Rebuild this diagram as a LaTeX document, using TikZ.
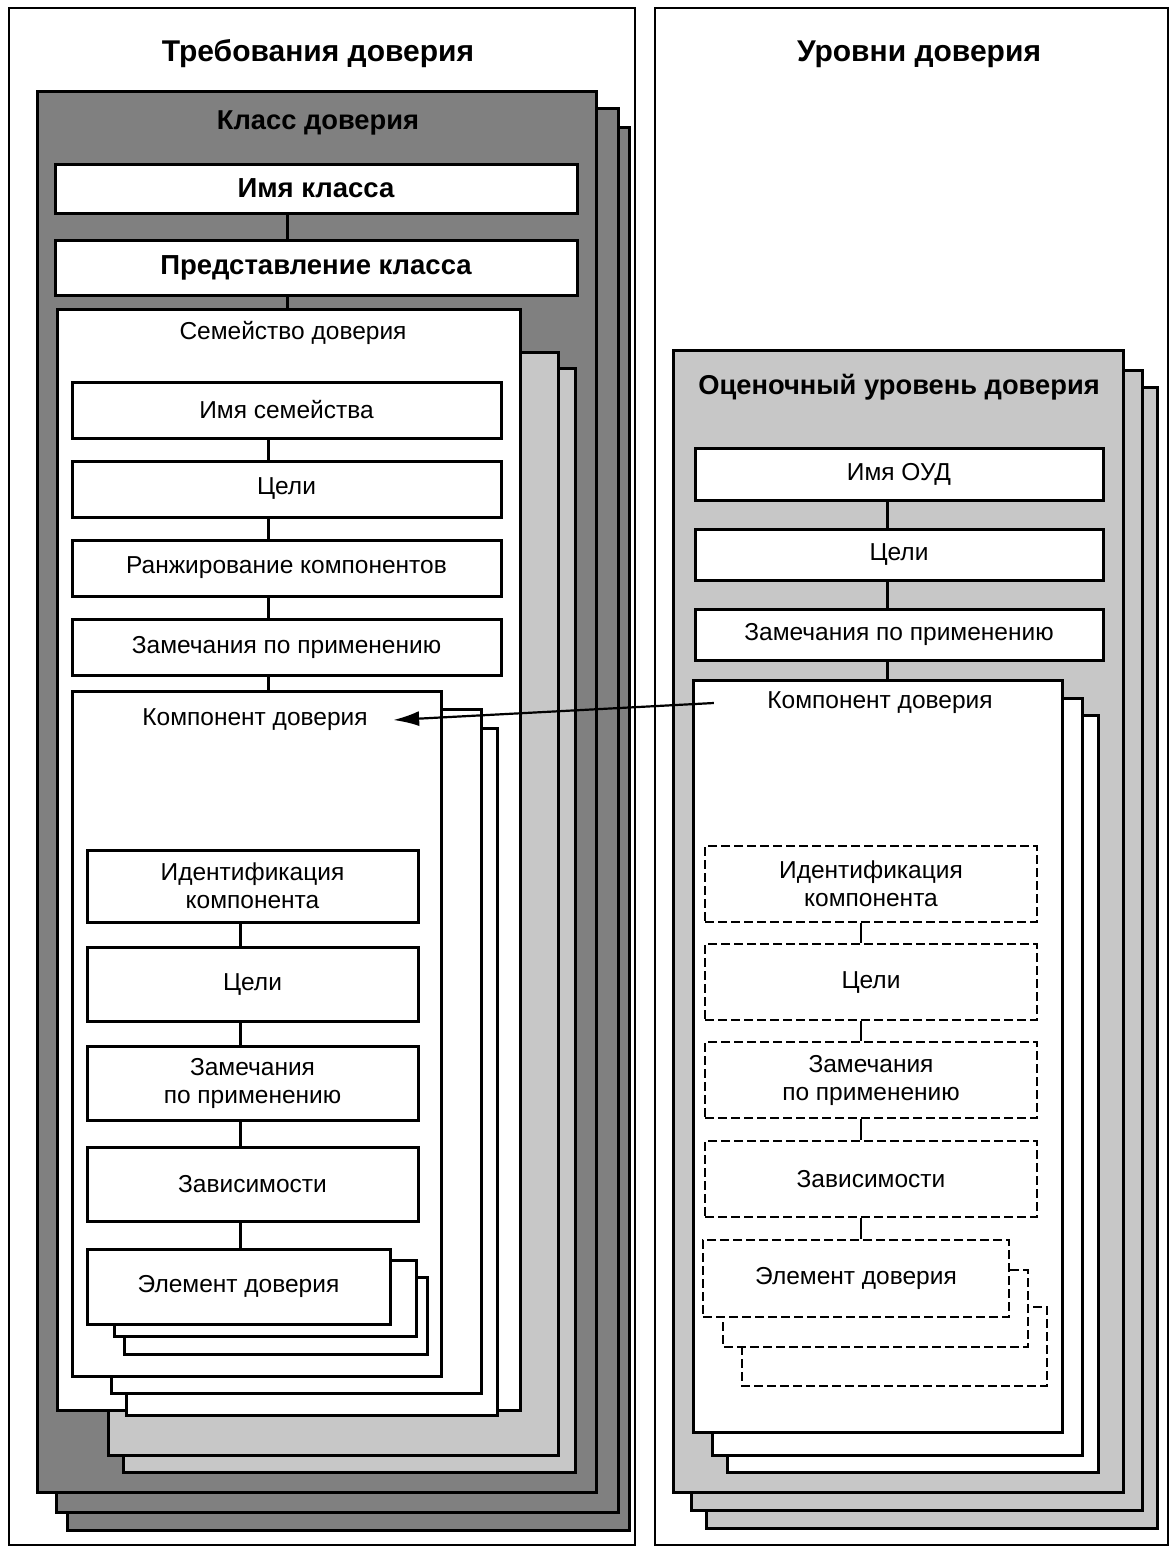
\documentclass[tikz,border=0pt]{standalone}
\usepackage{fontspec}
\setmainfont{Liberation Sans}
\usepackage{tikz}
\usetikzlibrary{positioning,arrows.meta}

\tikzset{
  panel/.style={draw, line width=2pt},
  darkpage/.style={draw, fill=black!50, line width=3pt},
  lightpage/.style={draw, fill=black!22, line width=3pt},
  whitepage/.style={draw, fill=white, line width=3pt},
  dashpage/.style={draw, fill=white, line width=2pt, dash pattern=on 9pt off 4pt},
  heading/.style={font=\fontsize{30}{34}\selectfont\bfseries},
  pagetitle/.style={font=\fontsize{27.3}{30}\selectfont\bfseries},
  bigslab/.style={whitepage, align=center, inner sep=0pt, font=\fontsize{27.5}{30}\selectfont\bfseries},
  slab/.style={whitepage, align=center, inner sep=0pt},
  dashslab/.style={dashpage, align=center, inner sep=0pt},
  link/.style={line width=3pt},
  thinlink/.style={line width=1.3pt},
  pointer/.style={line width=2.2pt, -{Latex[length=26pt, width=15pt]}}
}

\begin{document}
\begin{tikzpicture}[x=1pt, y=-1pt, node distance=24pt, font=\fontsize{24.5}{28}\selectfont]
    \useasboundingbox (0,0) rectangle (1174,1547);

    % two panels
    \node[panel, minimum width=626pt, minimum height=1537pt] (left) at (322,776.5) {};
    \node[panel, minimum width=513pt, minimum height=1537pt] (right) at (911.5,776.5) {};
    \node[heading] (reqtitle) at (318,54) {Требования доверия};
    \node[heading] (lvltitle) at (919,54) {Уровни доверия};

    % class stack
    \draw[darkpage] (67,127) rectangle (629,1530);
    \draw[darkpage] (56,108) rectangle (618,1512);
    \node[darkpage, minimum width=559pt, minimum height=1401pt] (cls) at (316.5,791.5) {};
    \node[pagetitle] (clstitle) at (318,123) {Класс доверия};
    \node[bigslab, minimum width=522pt, minimum height=49pt] (clsname) at (316,188.5) {Имя класса};
    \node[bigslab, minimum width=522pt, minimum height=55pt, below=24pt of clsname] (clsview) {Представление класса};

    % family stack
    \draw[lightpage] (123,368) rectangle (575,1472);
    \draw[lightpage] (108,352) rectangle (558,1455);
    \node[whitepage, minimum width=463pt, minimum height=1101pt] (fam) at (288.5,859.5) {};
    \node (famtitle) at (293,333) {Семейство доверия};
    \node[slab, minimum width=429pt, minimum height=56pt] (famname) at (286.5,410) {Имя семейства};
    \node[slab, minimum width=429pt, minimum height=56pt, below=20pt of famname] (famgoal) {Цели};
    \node[slab, minimum width=429pt, minimum height=56pt, below=20pt of famgoal] (famrank) {Ранжирование компонентов};
    \node[slab, minimum width=429pt, minimum height=56pt, below=20pt of famrank] (famnote) {Замечания по применению};

    % component stack (left)
    \draw[whitepage] (126,728) rectangle (497,1415);
    \draw[whitepage] (111,709) rectangle (481,1393);
    \node[whitepage, minimum width=369pt, minimum height=685pt] (comp) at (256.5,1033.5) {};
    \node (comptitle) at (255,720) {Компонент доверия};
    \node[slab, minimum width=331pt, minimum height=72pt] (compid) at (252.5,886) {Идентификация\\компонента};
    \node[slab, minimum width=331pt, minimum height=74pt, below=22pt of compid] (compgoal) {Цели};
    \node[slab, minimum width=331pt, minimum height=74pt, below=22pt of compgoal] (compnote) {Замечания\\по применению};
    \node[slab, minimum width=331pt, minimum height=74pt, below=24pt of compnote] (compdep) {Зависимости};
    \draw[whitepage] (124,1277) rectangle (427,1354);
    \draw[whitepage] (114,1260) rectangle (416,1336);
    \node[slab, minimum width=303pt, minimum height=75pt, below=25pt of compdep.south west, anchor=north west] (compelem) {Элемент доверия};

    % assurance level stack
    \draw[lightpage] (706,387) rectangle (1157,1528);
    \draw[lightpage] (691,370) rectangle (1142,1510);
    \node[lightpage, minimum width=450pt, minimum height=1142pt] (eal) at (898,921) {};
    \node[pagetitle] (ealtitle) at (899,387) {Оценочный уровень доверия};
    \node[slab, minimum width=408pt, minimum height=52pt] (ealname) at (899,474) {Имя ОУД};
    \node[slab, minimum width=408pt, minimum height=51pt, below=26pt of ealname] (ealgoal) {Цели};
    \node[slab, minimum width=408pt, minimum height=51pt, below=26pt of ealgoal] (ealnote) {Замечания по применению};

    % component stack (right)
    \draw[whitepage] (727,715) rectangle (1098,1472);
    \draw[whitepage] (712,698) rectangle (1082,1455);
    \node[whitepage, minimum width=369pt, minimum height=752pt] (rcomp) at (877.5,1056) {};
    \node (rcomptitle) at (880,703) {Компонент доверия};
    \node[dashslab, minimum width=332pt, minimum height=76pt] (rcompid) at (871,884) {Идентификация\\компонента};
    \node[dashslab, minimum width=332pt, minimum height=76pt, below=20pt of rcompid] (rcompgoal) {Цели};
    \node[dashslab, minimum width=332pt, minimum height=76pt, below=20pt of rcompgoal] (rcompnote) {Замечания\\по применению};
    \node[dashslab, minimum width=332pt, minimum height=76pt, below=21pt of rcompnote] (rcompdep) {Зависимости};
    \draw[dashpage] (742,1307) rectangle (1047,1386);
    \draw[dashpage] (723,1270) rectangle (1028,1347);
    \node[dashslab, minimum width=306pt, minimum height=77pt, below=21pt of rcompdep.south west, anchor=north west, xshift=-2pt] (rcompelem) {Элемент доверия};

    % connectors
    \coordinate (clsspine) at (287,0);
    \coordinate (famspine) at (268,0);
    \coordinate (compspine) at (240,0);
    \coordinate (ealspine) at (887,0);
    \coordinate (rcompspine) at (861,0);
    \foreach \a/\b in {clsname/clsview, clsview/fam}
        \draw[link] (\a.south -| clsspine) -- (\b.north -| clsspine);
    \foreach \a/\b in {famname/famgoal, famgoal/famrank, famrank/famnote, famnote/comp}
        \draw[link] (\a.south -| famspine) -- (\b.north -| famspine);
    \foreach \a/\b in {compid/compgoal, compgoal/compnote, compnote/compdep, compdep/compelem}
        \draw[link] (\a.south -| compspine) -- (\b.north -| compspine);
    \foreach \a/\b in {ealname/ealgoal, ealgoal/ealnote, ealnote/rcomp}
        \draw[link] (\a.south -| ealspine) -- (\b.north -| ealspine);
    \foreach \a/\b in {rcompid/rcompgoal, rcompgoal/rcompnote, rcompnote/rcompdep, rcompdep/rcompelem}
        \draw[thinlink] (\a.south -| rcompspine) -- (\b.north -| rcompspine);

    \draw[pointer] ([xshift=-50pt]rcomptitle.west) -- ([xshift=22pt]comptitle.east);
\end{tikzpicture}
\end{document}
